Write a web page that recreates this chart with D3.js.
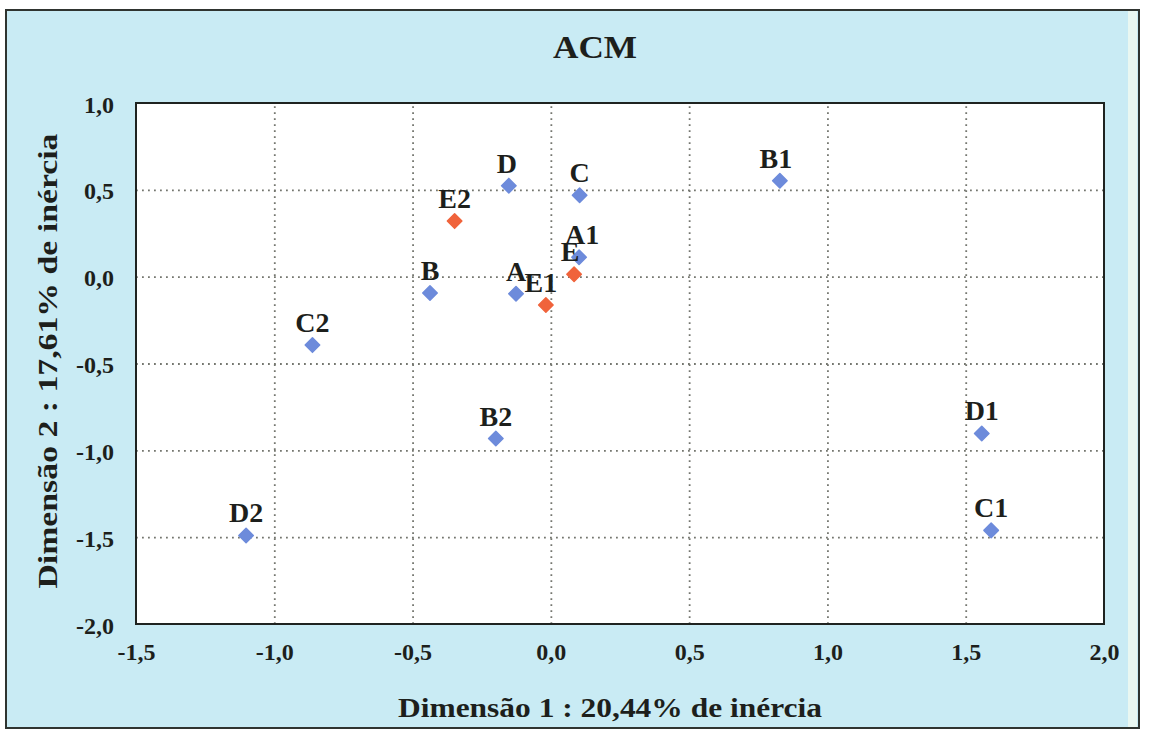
<!DOCTYPE html>
<html>
<head>
<meta charset="utf-8">
<script src="https://cdn.jsdelivr.net/npm/d3@7"></script>
<style>
  html, body { margin: 0; padding: 0; background: #ffffff; }
  svg text { font-family: "Liberation Serif", "Times New Roman", serif; font-weight: bold; fill: #1d1f1c; }
</style>
</head>
<body>
<svg id="chart" width="1149" height="736"></svg>
<script>
// Category coordinates on the first two dimensions of the MCA
const categories = ["D", "C", "B1", "E2", "E", "A1", "B", "A", "E1", "C2", "B2", "D2", "D1", "C1"];
const dim1Values = [-0.152, 0.104, 0.828, -0.348, 0.084, 0.102, -0.437, -0.126, -0.018, -0.862, -0.199, -1.102, 1.558, 1.592];
const dim2Values = [0.524, 0.469, 0.552, 0.320, 0.014, 0.112, -0.094, -0.098, -0.163, -0.394, -0.932, -1.490, -0.903, -1.461];
// "active" categories vs supplementary ones (E*)
const categoryGroups = ["active", "active", "active", "suppl", "suppl", "active", "active", "active", "suppl", "active", "active", "active", "active", "active"];

const xTickValues = [-1.5, -1.0, -0.5, 0.0, 0.5, 1.0, 1.5, 2.0];
const yTickValues = [1.0, 0.5, 0.0, -0.5, -1.0, -1.5, -2.0];

const chartTitle = "ACM";
const xAxisTitle = "Dimensão 1 : 20,44% de inércia";
const yAxisTitle = "Dimensão 2 : 17,61% de inércia";

const groupColor = { active: "#6d8bdb", suppl: "#f0633b" };

// Small horizontal nudges for crowded labels (pixels)
const labelNudge = { A1: 3, E: -4, E1: -5, D: -2, B1: -4 };

const svg = d3.select("#chart");

// Plot area
const plot = { left: 136, right: 1104, top: 103, bottom: 624 };

const x = d3.scaleLinear().domain([-1.5, 2.0]).range([plot.left, plot.right]);
const y = d3.scaleLinear().domain([-2.0, 1.0]).range([plot.bottom, plot.top]);

const ptBr = d3.formatLocale({ decimal: ",", thousands: ".", grouping: [3], currency: ["", ""], minus: "-" });
const fmt = ptBr.format(".1f");

// Outer panel
svg.append("rect")
  .attr("x", 6).attr("y", 10).attr("width", 1133).attr("height", 718)
  .attr("fill", "#c9ebf4").attr("stroke", "#2f3430").attr("stroke-width", 2);
svg.append("rect")
  .attr("x", 1128).attr("y", 11).attr("width", 9).attr("height", 716)
  .attr("fill", "#e9f7f1");

// Plot background
svg.append("rect")
  .attr("x", plot.left).attr("y", plot.top)
  .attr("width", plot.right - plot.left).attr("height", plot.bottom - plot.top)
  .attr("fill", "#ffffff");

// Dotted grid
const gridX = svg.append("g")
  .attr("transform", `translate(0,${plot.bottom})`)
  .call(d3.axisBottom(x).tickValues(xTickValues.slice(1, -1)).tickSize(-(plot.bottom - plot.top)).tickFormat(""));
const gridY = svg.append("g")
  .attr("transform", `translate(${plot.left},0)`)
  .call(d3.axisLeft(y).tickValues(yTickValues.slice(1, -1)).tickSize(-(plot.right - plot.left)).tickFormat(""));
[gridX, gridY].forEach(g => {
  g.select(".domain").remove();
  g.selectAll(".tick line")
    .attr("stroke", "#74766f")
    .attr("stroke-width", 1.8)
    .attr("stroke-dasharray", "1.8,4.2");
});

// Plot border
svg.append("rect")
  .attr("x", plot.left).attr("y", plot.top)
  .attr("width", plot.right - plot.left).attr("height", plot.bottom - plot.top)
  .attr("fill", "none").attr("stroke", "#1f2320").attr("stroke-width", 2);

// Tick labels
const xAxis = svg.append("g")
  .attr("transform", `translate(0,${plot.bottom})`)
  .call(d3.axisBottom(x).tickValues(xTickValues).tickSize(0).tickPadding(0).tickFormat(fmt));
xAxis.select(".domain").remove();
xAxis.selectAll(".tick text")
  .attr("y", 36).attr("dy", null)
  .style("font-size", "24px")
  .style("font-family", "'Liberation Serif', serif")
  .style("font-weight", "bold")
  .attr("fill", "#1d1f1c");

const yAxis = svg.append("g")
  .attr("transform", `translate(${plot.left},0)`)
  .call(d3.axisLeft(y).tickValues(yTickValues).tickSize(0).tickPadding(0).tickFormat(fmt));
yAxis.select(".domain").remove();
yAxis.selectAll(".tick text")
  .attr("x", -22).attr("dy", "0.38em")
  .style("font-size", "24px")
  .style("font-family", "'Liberation Serif', serif")
  .style("font-weight", "bold")
  .attr("fill", "#1d1f1c");

// Titles
svg.append("text")
  .attr("x", 595).attr("y", 58)
  .attr("text-anchor", "middle")
  .attr("textLength", 84).attr("lengthAdjust", "spacingAndGlyphs")
  .style("font-size", "32px")
  .text(chartTitle);

svg.append("text")
  .attr("x", 610).attr("y", 717)
  .attr("text-anchor", "middle")
  .attr("textLength", 424).attr("lengthAdjust", "spacingAndGlyphs")
  .style("font-size", "27px")
  .text(xAxisTitle);

svg.append("text")
  .attr("transform", "translate(57,361) rotate(-90)")
  .attr("text-anchor", "middle")
  .attr("textLength", 455).attr("lengthAdjust", "spacingAndGlyphs")
  .style("font-size", "27px")
  .text(yAxisTitle);

// Points
const points = categories.map((c, i) => ({ name: c, d1: dim1Values[i], d2: dim2Values[i], group: categoryGroups[i] }));

const diamond = d3.symbol().type(d3.symbolSquare).size(105);

svg.append("g")
  .selectAll("path")
  .data(points)
  .join("path")
  .attr("d", diamond)
  .attr("transform", d => `translate(${x(d.d1)},${y(d.d2)}) rotate(45)`)
  .attr("fill", d => groupColor[d.group])
  .attr("stroke", d => groupColor[d.group])
  .attr("stroke-width", 1.5)
  .attr("stroke-linejoin", "round");

// Category labels above each point
svg.append("g")
  .selectAll("text")
  .data(points)
  .join("text")
  .attr("x", d => x(d.d1) + (labelNudge[d.name] || 0))
  .attr("y", d => y(d.d2) - 13)
  .attr("text-anchor", "middle")
  .style("font-size", "28px")
  .text(d => d.name);
</script>
</body>
</html>
